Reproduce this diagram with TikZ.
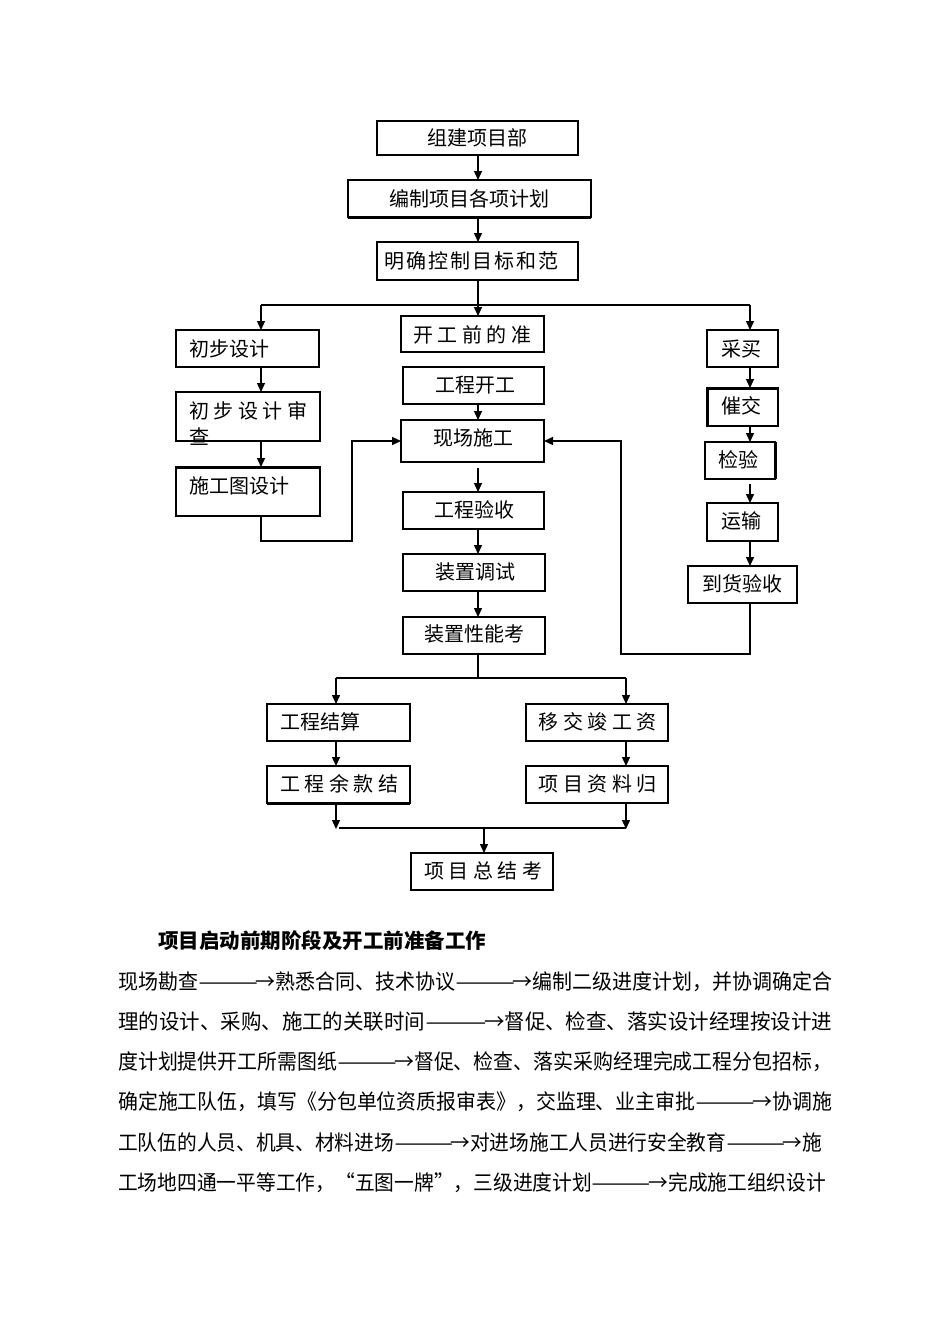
\documentclass[tikz,border=0pt]{standalone}
\usepackage{fontspec}
\usepackage{graphicx}
\setmainfont{Noto Sans CJK SC}
\usetikzlibrary{arrows.meta}
\newcommand{\kk}{\kern4.5pt}
\newcommand{\fitline}[2]{\resizebox{#1}{\height}{#2}}
\newcommand{\arrw}{\scalebox{1.8}[1]{——}\kern-0.15em→}
\begin{document}
\begin{tikzpicture}[x=1pt,y=-1pt,
  box/.style={draw, line width=1.3pt, inner sep=0pt, outer sep=0pt, rectangle},
  lbl/.style={inner sep=0pt, font=\fontsize{20}{20}\selectfont},
  link/.style={line width=1.4pt},
  arr/.style={link, -{Triangle[length=9pt,width=8pt]}},
  thick border/.style={line width=3pt},
  para/.style={inner sep=0pt, anchor=west, font=\fontsize{21}{21}\selectfont},
  head/.style={inner sep=0pt, anchor=west, font=\fontsize{20.5}{20.5}\selectfont\bfseries}]
\useasboundingbox[fill=white] (0,0) rectangle (950,1344);
% boxes: name, x1,y1,x2,y2
\newcommand{\bx}[5]{\node[box, minimum width={(#4-#2)*1pt}, minimum height={(#5-#3)*1pt}] (#1) at ({(#2+#4)/2},{(#3+#5)/2}) {};}
\bx{A}{377}{121}{578}{155}
\bx{B}{348}{180}{591}{217}
\bx{C}{377}{242}{578}{280}
\bx{D1}{176}{330}{319}{367}
\bx{D2}{176}{392}{320}{441}
\bx{D3}{176}{467}{320}{516}
\bx{M0}{401}{316}{544}{352}
\bx{M1}{403}{367}{544}{404}
\bx{M2}{401}{420}{544}{462}
\bx{M3}{403}{492}{544}{529}
\bx{M4}{403}{554}{545}{591}
\bx{M5}{403}{617}{545}{654}
\bx{R1}{707}{330}{778}{367}
\bx{R2}{707}{388}{778}{426}
\bx{R3}{705}{442}{775}{479}
\bx{R4}{707}{503}{778}{541}
\bx{R5}{688}{566}{797}{603}
\bx{L1}{267}{704}{410}{741}
\bx{L2}{267}{766}{410}{803}
\bx{S1}{526}{704}{668}{741}
\bx{S2}{526}{766}{668}{803}
\bx{E}{411}{853}{553}{890}
% heavier edges
\draw[thick border] (B.south west) -- (B.south east);
\draw[line width=2pt] (B.north west) -- (B.south west) (B.north west) -- (B.north east);
\draw[thick border] (D3.north west) -- (D3.north east);
\draw[thick border] (R2.south west) -- (R2.north west) -- (R2.north east);
\draw[thick border] (R3.north east) -- (R3.south east);
\draw[thick border] (L2.south west) -- (L2.south east);
% labels
\node[lbl] (tA) at (477.5,138) {组建项目部};
\node[lbl] (tB) at (469.5,199) {编制项目各项计划};
\node[lbl] (tC) at (471,261) {明\kern2pt 确\kern2pt 控\kern2pt 制\kern2pt 目\kern2pt 标\kern2pt 和\kern2pt 范};
\node[lbl, anchor=west] (tD1) at (189,349) {初步设计};
\node[lbl, anchor=west] (tD2a) at (189,411) {初\kk 步\kk 设\kk 计\kk 审};
\node[lbl, anchor=west] (tD2b) at (189,437) {查};
\node[lbl, anchor=west] (tD3) at (189,486) {施工图设计};
\node[lbl] (tM0) at (472,335) {开\kk 工\kk 前\kk 的\kk 准};
\node[lbl] (tM1) at (475,385) {工程开工};
\node[lbl] (tM2) at (473,438) {现场施工};
\node[lbl] (tM3) at (474.5,510) {工程验收};
\node[lbl] (tM4) at (475,572) {装置调试};
\node[lbl] (tM5) at (474,634) {装置性能考};
\node[lbl] (tR1) at (741,349) {采买};
\node[lbl] (tR2) at (741,406) {催交};
\node[lbl] (tR3) at (738,460) {检验};
\node[lbl] (tR4) at (741,521) {运输};
\node[lbl] (tR5) at (742.5,584) {到货验收};
\node[lbl, anchor=west] (tL1) at (280,722) {工程结算};
\node[lbl] (tL2) at (339,784) {工\kk 程\kk 余\kk 款\kk 结};
\node[lbl] (tS1) at (597.5,722) {移\kk 交\kk 竣\kk 工\kk 资};
\node[lbl] (tS2) at (597.5,784) {项\kk 目\kk 资\kk 料\kk 归};
\node[lbl] (tE) at (483,871) {项\kk 目\kk 总\kk 结\kk 考};
% reference coordinates
\coordinate (tx) at (478,0);
\coordinate (lx) at (261,0);
\coordinate (rx) at (750,0);
\coordinate (bl) at (336,0);
\coordinate (br) at (626,0);
\coordinate (ex) at (484,0);
\coordinate (split) at (478,305);
\coordinate (fork) at (478,678);
\coordinate (join) at (484,828);
\coordinate (lret) at (352,541);
\coordinate (rret) at (621,654);
% main trunk
\draw[arr] (A.south -| tx) -- (B.north -| tx);
\draw[arr] (B.south -| tx) -- (C.north -| tx);
\draw[link] (C.south -| tx) -- (split);
\draw[link] (split -| lx) -- (split -| rx);
\draw[arr] (split -| lx) -- (D1.north -| lx);
\draw[arr] (split) -- (M0.north -| tx);
\draw[arr] (split -| rx) -- (R1.north -| rx);
% left column
\draw[arr] (D1.south -| lx) -- (D2.north -| lx);
\draw[arr] (D2.south -| lx) -- (D3.north -| lx);
\draw[arr] (D3.south -| lx) |- (lret) |- (M2.west);
% middle column
\draw[arr] (M1.south -| tx) -- (M2.north -| tx);
\draw[arr] ([yshift=-6pt]M2.south -| tx) -- (M3.north -| tx);
\draw[arr] (M3.south -| tx) -- (M4.north -| tx);
\draw[arr] (M4.south -| tx) -- (M5.north -| tx);
% right column
\draw[arr] (R1.south -| rx) -- (R2.north -| rx);
\draw[arr] (R2.south -| rx) -- (R3.north -| rx);
\draw[arr] ([yshift=-5pt]R3.south -| rx) -- (R4.north -| rx);
\draw[arr] (R4.south -| rx) -- (R5.north -| rx);
\draw[arr] (R5.south -| rx) |- (rret) |- (M2.east);
% lower part
\draw[link] (M5.south -| tx) -- (fork);
\draw[link] (fork -| bl) -- (fork -| br);
\draw[arr] (fork -| bl) -- (L1.north -| bl);
\draw[arr] (fork -| br) -- (S1.north -| br);
\draw[arr] (L1.south -| bl) -- (L2.north -| bl);
\draw[arr] (S1.south -| br) -- (S2.north -| br);
\draw[arr] (L2.south -| bl) -- ([yshift=-1pt]join -| bl);
\draw[arr] (S2.south -| br) -- ([yshift=-1pt]join -| br);
\draw[link] ([xshift=3pt]join -| bl) -- (join -| br);
\draw[arr] (join) -- (E.north -| ex);
% text below
\node[head] (h) at (158,941) {项目启动前期阶段及开工前准备工作};
\node[para] (p1) at (118,982) {\fitline{714pt}{现场勘查\arrw 熟悉合同、技术协议\arrw 编制二级进度计划，并协调确定合}};
\node[para] (p2) at (118,1022) {\fitline{714pt}{理的设计、采购、施工的关联时间\arrw 督促、检查、落实设计经理按设计进}};
\node[para] (p3) at (118,1062) {\fitline{714pt}{度计划提供开工所需图纸\arrw 督促、检查、落实采购经理完成工程分包招标，}};
\node[para] (p4) at (118,1102) {\fitline{714pt}{确定施工队伍，填写《分包单位资质报审表》，交监理、业主审批\arrw 协调施}};
\node[para] (p5) at (118,1142) {\fitline{704pt}{工队伍的人员、机具、材料进场\arrw 对进场施工人员进行安全教育\arrw 施}};
\node[para] (p6) at (118,1183) {\fitline{708pt}{工场地四通一平等工作，“五图一牌”，三级进度计划\arrw 完成施工组织设计}};
\end{tikzpicture}
\end{document}
